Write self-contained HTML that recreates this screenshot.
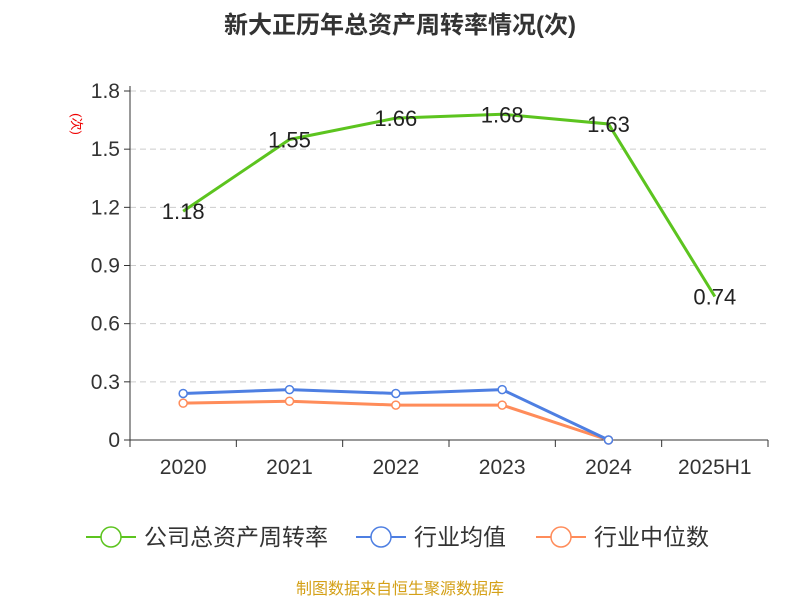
<!DOCTYPE html>
<html><head><meta charset="utf-8"><style>
body{margin:0;background:#fff;font-family:"Liberation Sans","Noto Sans CJK SC",sans-serif}
</style></head><body>
<svg id="c" width="800" height="600" xmlns="http://www.w3.org/2000/svg">
<text x="400" y="33" text-anchor="middle" font-size="24" font-weight="bold" fill="#333">新大正历年总资产周转率情况(次)</text>
<text x="72" y="124" font-size="13" fill="#e00" transform="rotate(90 72 124)" text-anchor="middle">(次)</text>
<g id="grid"></g><g id="axes"></g><g id="series"></g>
<g>
<g><line x1="86" y1="537" x2="136" y2="537" stroke="#5cc41f" stroke-width="2"/><circle cx="111" cy="537" r="10" fill="#fff" stroke="#5cc41f" stroke-width="1.5"/><text x="144" y="545" font-size="23" fill="#333">公司总资产周转率</text></g>
<g><line x1="356" y1="537" x2="406" y2="537" stroke="#4e7fe2" stroke-width="2"/><circle cx="381" cy="537" r="10" fill="#fff" stroke="#4e7fe2" stroke-width="1.5"/><text x="414" y="545" font-size="23" fill="#333">行业均值</text></g>
<g><line x1="536" y1="537" x2="586" y2="537" stroke="#ff8c5a" stroke-width="2"/><circle cx="561" cy="537" r="10" fill="#fff" stroke="#ff8c5a" stroke-width="1.5"/><text x="594" y="545" font-size="23" fill="#333">行业中位数</text></g>
</g>
<text x="400" y="594" text-anchor="middle" font-size="16" fill="#d4a017">制图数据来自恒生聚源数据库</text>
</svg>
<script>
const categories=["2020","2021","2022","2023","2024","2025H1"];
const companyVals=[1.18,1.55,1.66,1.68,1.63,0.74];
const avgVals=[0.24,0.26,0.24,0.26,0.0,null];
const medianVals=[0.19,0.20,0.18,0.18,0.0,null];
const yTicks=[0,0.3,0.6,0.9,1.2,1.5,1.8];
const ns="http://www.w3.org/2000/svg";
const X0=130,X1=768,Y0=440,Y1=91,YMAX=1.8;
const bw=(X1-X0)/categories.length;
const x=i=>X0+bw*(i+0.5);
const y=v=>Y0-(v/YMAX)*(Y0-Y1);
function mk(t,a,p){const e=document.createElementNS(ns,t);for(const k in a)e.setAttribute(k,a[k]);p.appendChild(e);return e;}
const grid=document.getElementById('grid'),axes=document.getElementById('axes'),ser=document.getElementById('series');
yTicks.forEach(v=>{
 if(v>0){const g=mk('line',{x1:X0,x2:X1,y1:y(v),y2:y(v),stroke:'#ccc','stroke-dasharray':'6,4'},grid);
 
 }
 const tk=mk('line',{x1:X0-6,x2:X0,y1:y(v),y2:y(v),stroke:'#333'},axes);
 
 
 const t=mk('text',{x:X0-10,y:y(v)+7,'text-anchor':'end','font-size':21,fill:'#333'},axes);t.textContent=String(v);
 
 
});
const ya=mk('line',{x1:X0,x2:X0,y1:Y1-5,y2:Y0,stroke:'#333'},axes);


const xa=mk('line',{x1:X0,x2:X1,y1:Y0,y2:Y0,stroke:'#333'},axes);


for(let i=0;i<=categories.length;i++){const l=mk('line',{x1:X0+bw*i,x2:X0+bw*i,y1:Y0,y2:Y0+7,stroke:'#333'},axes);
 
 }
categories.forEach((c,i)=>{const t=mk('text',{x:x(i),y:Y0+34,'text-anchor':'middle','font-size':21,fill:'#333'},axes);t.textContent=c;
 
 });
function line(vals,color,name,dots,labels){
 const pts=vals.map((v,i)=>v==null?null:[x(i),y(v)]).filter(p=>p);
 const p=mk('polyline',{points:pts.map(q=>q.join(',')).join(' '),fill:'none',stroke:color,'stroke-width':3},ser);
 
 
 vals.forEach((v,i)=>{if(v==null)return;
  if(dots){const c=mk('circle',{cx:x(i),cy:y(v),r:4,fill:'#fff',stroke:color,'stroke-width':1.5},ser);
  
  }
  if(labels){const t=mk('text',{x:x(i),y:y(v)+8,'text-anchor':'middle','font-size':22,fill:'#222'},ser);t.textContent=v.toFixed(2);
  
  }
 });
}
line(medianVals,'#ff8c5a','industry-median',true,false);
line(avgVals,'#4e7fe2','industry-avg',true,false);
line(companyVals,'#5cc41f','company',false,true);
</script>
</body></html>
